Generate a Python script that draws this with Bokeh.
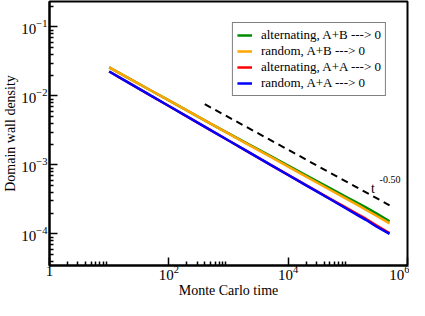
from bokeh.plotting import figure
from bokeh.models import Range1d, FixedTicker, LogTickFormatter, Legend, LegendItem, Label
from bokeh.embed import file_html
from bokeh.resources import INLINE

# Monte Carlo time
t = [10, 20, 50, 100, 200, 500, 1e3, 2e3, 5e3, 1e4, 2e4, 5e4, 1e5, 1.5e5, 2e5, 3e5, 5e5]

alt_AB = [0.026, 0.0186, 0.0120, 0.00862, 0.00618, 0.00398, 0.00287, 0.00207, 0.00135,
          0.00098, 0.000705, 0.000462, 0.000334, 0.000276, 0.000242, 0.000198, 0.000152]
rnd_AB = [0.026, 0.0186, 0.0120, 0.00861, 0.00617, 0.00397, 0.00285, 0.00204, 0.00132,
          0.000944, 0.000677, 0.000436, 0.000313, 0.000259, 0.000224, 0.000183, 0.000142]
alt_AA = [0.0226, 0.0160, 0.0101, 0.00715, 0.00505, 0.00320, 0.00226, 0.00160, 0.00101,
          0.000718, 0.000508, 0.000324, 0.000232, 0.000190, 0.000166, 0.000133, 0.000103]
rnd_AA = [0.0226, 0.0160, 0.0101, 0.00715, 0.00505, 0.00320, 0.00226, 0.00160, 0.00101,
          0.000715, 0.000505, 0.000320, 0.000226, 0.000184, 0.000160, 0.000128, 0.000100]

# guide line ~ t^-0.50
guide_t = [400, 5e5]
guide_y = [7.6e-3, 2.6e-4]

x_major = [1, 1e2, 1e4, 1e6]
x_minor = [k * m for m in (1, 1e2, 1e4) for k in range(2, 10)]
y_major = [1e-4, 1e-3, 1e-2, 1e-1]
y_minor = [k * m for m in (1e-5, 1e-4, 1e-3, 1e-2, 1e-1) for k in range(2, 10)]

labels = ["alternating, A+B ---> 0", "random, A+B ---> 0",
          "alternating, A+A ---> 0", "random, A+A ---> 0"]
colors = ["#008b00", "#ffa500", "#ff0000", "#0000ff"]

FONT = "Liberation Serif"

p = figure(width=409, height=300, x_axis_type="log", y_axis_type="log",
           x_range=Range1d(1, 1e6), y_range=Range1d(3.48e-5, 0.234),
           output_backend="svg", toolbar_location=None,
           min_border_left=0, min_border_right=2, min_border_top=1, min_border_bottom=0)

p.xgrid.visible = False
p.ygrid.visible = False
p.outline_line_color = "black"
p.outline_line_width = 2
p.background_fill_color = "white"
p.border_fill_color = "white"

for ax, maj, mnr, mexp in ((p.xaxis[0], x_major, x_minor, 1), (p.yaxis[0], y_major, y_minor, 0)):
    ax.ticker = FixedTicker(ticks=maj, minor_ticks=mnr)
    ax.formatter = LogTickFormatter(min_exponent=mexp)
    ax.major_tick_in = 8
    ax.major_tick_out = 0
    ax.minor_tick_in = 4
    ax.minor_tick_out = 0
    ax.major_tick_line_color = "black"
    ax.minor_tick_line_color = "black"
    ax.major_tick_line_width = 1.5
    ax.minor_tick_line_width = 1.5
    ax.axis_line_color = "black"
    ax.axis_line_width = 2
    ax.major_label_text_font = FONT
    ax.major_label_text_font_size = "15px"
    ax.major_label_text_line_height = 1.0
    ax.major_label_text_color = "black"
    ax.axis_label_text_font = FONT
    ax.axis_label_text_font_size = "14px"
    ax.axis_label_text_line_height = 1.0
    ax.axis_label_text_font_style = "normal"
    ax.axis_label_text_color = "black"

p.xaxis.axis_label = "Monte Carlo time"
p.yaxis.axis_label = "Domain wall density"
p.xaxis.major_label_standoff = 0
p.xaxis.axis_label_standoff = 0
p.yaxis.major_label_standoff = 2
p.yaxis.axis_label_standoff = 0

r_g = p.line(t, alt_AB, line_color=colors[0], line_width=2.5)
r_o = p.line(t, rnd_AB, line_color=colors[1], line_width=2.5)
r_r = p.line(t, alt_AA, line_color=colors[2], line_width=2.5)
r_b = p.line(t, rnd_AA, line_color=colors[3], line_width=2.5)

p.line(guide_t, guide_y, line_color="black", line_width=2, line_dash="7 5")

p.add_layout(Label(x=2.45e5, y=4.5e-4, text="t", text_font=FONT, text_font_size="14px",
                   text_baseline="middle", text_color="black"))
p.add_layout(Label(x=3.4e5, y=6.2e-4, text="-0.50", text_font=FONT, text_font_size="10px",
                   text_baseline="middle", text_color="black"))

legend = Legend(items=[LegendItem(label=l, renderers=[r]) for l, r in zip(labels, [r_g, r_o, r_r, r_b])],
                location="top_right", label_text_font=FONT, label_text_font_size="13px",
                label_text_color="black", glyph_width=15, glyph_height=16, label_height=16,
                label_standoff=9, spacing=0, padding=4, margin=21,
                border_line_color="black", border_line_width=1, background_fill_alpha=1)
p.add_layout(legend)

open("out.html", "w").write(file_html(p, INLINE))
